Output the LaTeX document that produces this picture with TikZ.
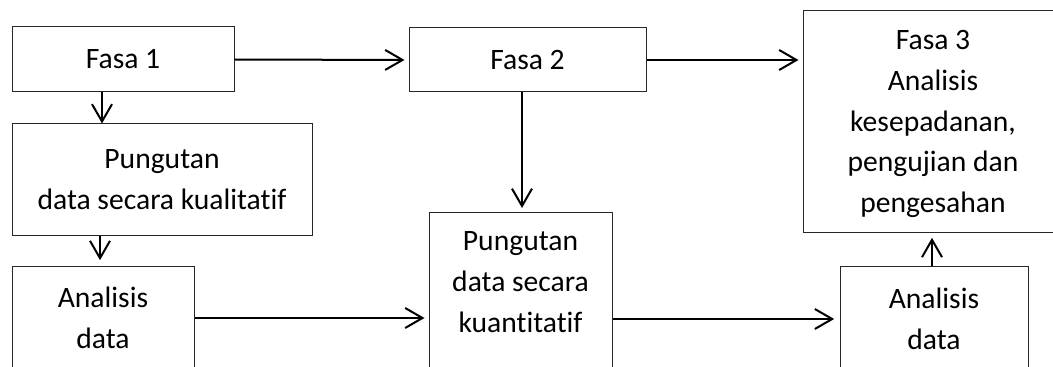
\documentclass[tikz,border=0pt]{standalone}
\usepackage{fontspec}
\setmainfont{Carlito}[Ligatures={NoCommon,NoRequired}]
\usetikzlibrary{arrows.meta}

\tikzset{
  box/.style={draw=black!85, line width=0.75pt, align=center, inner sep=0pt,
    font=\fontsize{22.2pt}{30.5pt}\selectfont},
  boxtext/.style={align=center, inner sep=0pt, font=\fontsize{22.2pt}{30.5pt}\selectfont},
  arr/.style={line width=1.5pt, -{Straight Barb[length=13pt,width=15pt,line width=1.5pt]}},
}

\begin{document}
\begin{tikzpicture}[x=0.75pt, y=-0.75pt]
    \useasboundingbox (0,0) rectangle (1053,367);
    \clip (0,0) rectangle (1053,367);
    \node[box, minimum width=166.5pt, minimum height=48.75pt] (fasa1) at (123,59.5) {Fasa 1};
      \node[box, minimum width=177.75pt, minimum height=48pt] (fasa2) at (527.5,60) {Fasa 2};
      \node[box, minimum width=195pt, minimum height=165.75pt, text depth=0pt] (fasa3) at (933,121.5)
        {Fasa 3\\Analisis\\kesepadanan,\\pengujian dan\\pengesahan};
      \node[box, minimum width=225pt, minimum height=83.25pt] (kual) at (162,179.5)
        {Pungutan\\data secara kualitatif};
      \node[box, minimum width=136.5pt, minimum height=78pt] (anal1) at (103,318) {Analisis\\data};
      \node[box, minimum width=137.25pt, minimum height=135pt, anchor=north] (kuan) at (520.5,212) {};
      \node[boxtext] (kuantext) at (520.5,282) {Pungutan\\data secara\\kuantitatif};
      \node[box, minimum width=141pt, minimum height=79.5pt] (anal2) at (934,319) {Analisis\\data};
      % arrows
      \draw[arr, shorten >=3pt] (fasa1.east) -- (fasa2.west);
      \draw[arr] (102,0 |- fasa1.south) -- (102,0 |- kual.north);
      \draw[arr, shorten >=4pt] (100,0 |- kual.south) -- (100,0 |- anal1.north);
      \draw[arr, shorten >=3pt] (anal1.east) -- (anal1.east -| kuan.west);
      \draw[arr, shorten >=3pt] (522,0 |- fasa2.south) -- (522,0 |- kuan.north);
      \draw[arr, shorten >=3pt] (fasa2.east) -- (fasa2.east -| fasa3.west);
      \draw[arr, shorten >=4pt] (anal2.west -| kuan.east) -- (anal2.west);
      \draw[arr, shorten >=4pt] (932,0 |- anal2.north) -- (932,0 |- fasa3.south);
    \end{tikzpicture}
\end{document}
